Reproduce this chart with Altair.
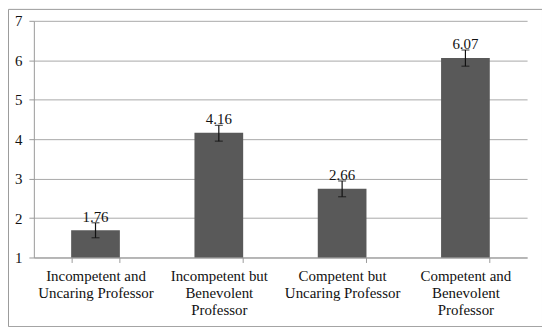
import altair as alt
import pandas as pd

categories = [
    "Incompetent and\nUncaring Professor",
    "Incompetent but\nBenevolent\nProfessor",
    "Competent but\nUncaring Professor",
    "Competent and\nBenevolent\nProfessor",
]
bar_values = [1.69, 4.16, 2.74, 6.06]
err_low = [1.50, 3.95, 2.54, 5.85]
err_high = [1.88, 4.35, 2.94, 6.26]
value_labels = ["1.76", "4.16", "2.66", "6.07"]
y_ticks = [1, 2, 3, 4, 5, 6, 7]

df = pd.DataFrame({
    "cat": categories,
    "value": bar_values,
    "lo": err_low,
    "hi": err_high,
    "label": value_labels,
})

FONT = "Liberation Serif, Times New Roman, DejaVu Serif, serif"

y_scale = alt.Scale(domain=[1, 7], nice=False, zero=False)
x_scale = alt.Scale(paddingInner=0.605, paddingOuter=0.3025)

bars = alt.Chart(df).mark_bar(color="#595959").encode(
    x=alt.X(
        "cat:N",
        sort=categories,
        scale=x_scale,
        title=None,
        axis=alt.Axis(labelExpr="split(datum.label, '\\n')", tickBand="extent"),
    ),
    y=alt.Y("value:Q", scale=y_scale, title=None, axis=alt.Axis(values=y_ticks, format="d")),
    y2=alt.datum(1),
)

xs = alt.X("cat:N", sort=categories, title=None)

err_rule = alt.Chart(df).mark_rule(color="#111111", strokeWidth=1.2).encode(
    x=xs,
    y=alt.Y("lo:Q", scale=y_scale, title=None),
    y2="hi:Q",
)
cap_lo = alt.Chart(df).mark_tick(color="#111111", size=8, thickness=1.2, orient="horizontal").encode(
    x=xs,
    y=alt.Y("lo:Q", scale=y_scale, title=None),
)
cap_hi = alt.Chart(df).mark_tick(color="#111111", size=8, thickness=1.2, orient="horizontal").encode(
    x=xs,
    y=alt.Y("hi:Q", scale=y_scale, title=None),
)

text = alt.Chart(df).mark_text(
    font=FONT, fontSize=15, color="#111111", baseline="alphabetic", dy=-1
).encode(
    x=xs,
    y=alt.Y("hi:Q", scale=y_scale, title=None),
    text="label:N",
)

border = alt.Chart(pd.DataFrame({"a": [0]})).mark_rect(
    fill=None, stroke="#9a9a9a", strokeWidth=1
).encode(
    x=alt.value(-25.5),
    x2=alt.value(511.5),
    y=alt.value(-11.5),
    y2=alt.value(307.5),
)

chart = (
    alt.layer(bars, err_rule, cap_lo, cap_hi, text, border)
    .properties(
        width=496,
        height=238,
        autosize=alt.AutoSizeParams(type="none"),
        padding={"left": 26, "top": 12, "right": 15, "bottom": 69},
    )
    .configure(background="white", font=FONT)
    .configure_view(stroke=None)
    .configure_axis(
        labelFont=FONT,
        labelFontSize=15,
        labelColor="#111111",
        tickSize=5,
        tickColor="#9a9a9a",
        domainColor="#9a9a9a",
    )
    .configure_axisX(
        labelAngle=0,
        labelLineHeight=17,
        labelPadding=6,
        labelBaseline="top",
        grid=False,
    )
    .configure_axisY(
        tickCount=7,
        labelPadding=7,
        labelOverlap=False,
        gridColor="#a8a8a8",
        gridWidth=1,
    )
    .configure_text(font=FONT)
)

chart.save("out.html", embed_options={"renderer": "svg", "actions": False})
